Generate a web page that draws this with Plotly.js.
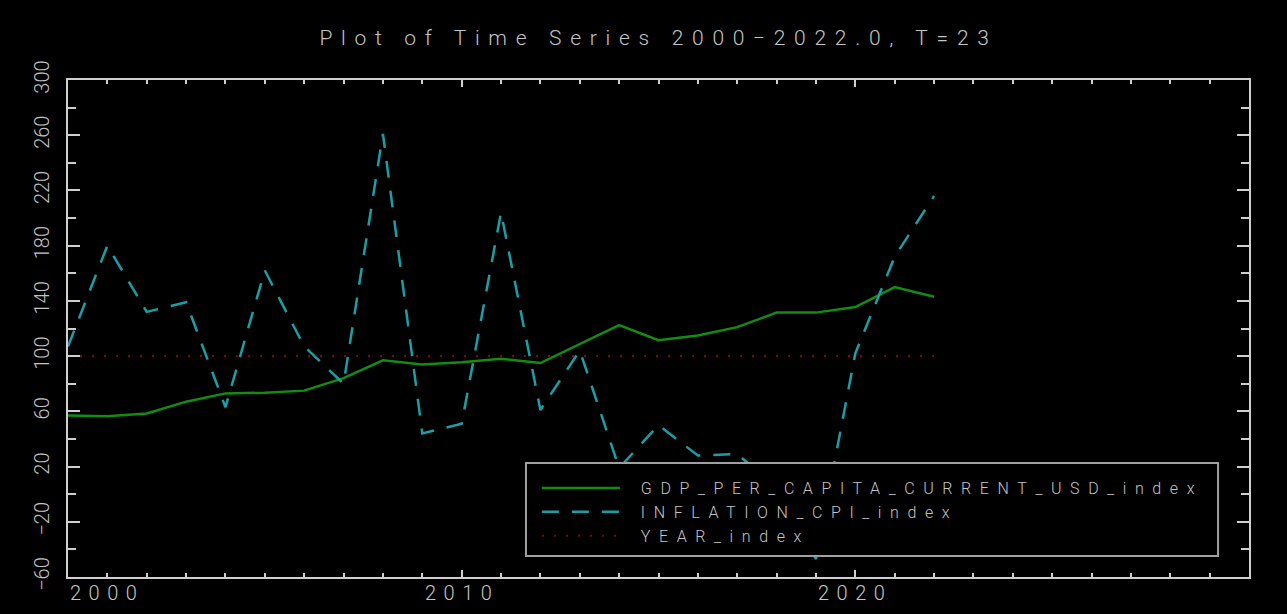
<!DOCTYPE html>
<html>
<head>
<meta charset="utf-8">
<script src="https://cdn.plot.ly/plotly-3.0.1.min.js"></script>
<style>
  html, body { margin: 0; padding: 0; background: #000; }
  #chart { width: 1287px; height: 614px; }
  /* wide, airy lettering for the stroke-style labels */
  .gtitle { letter-spacing: 8.7px; }
  .annotation-text { letter-spacing: 7.5px; }
  .legendtext { letter-spacing: 8.6px; }
</style>
</head>
<body>
<div id="chart"></div>
<script>
// ---- data -------------------------------------------------------------
const years = [2000, 2001, 2002, 2003, 2004, 2005, 2006, 2007, 2008, 2009, 2010, 2011,
               2012, 2013, 2014, 2015, 2016, 2017, 2018, 2019, 2020, 2021, 2022];

const gdpPerCapitaIndex = [57, 56.5, 58.5, 67, 73, 73.5, 75, 84, 97, 94, 95.5, 98,
                           95, 109, 122.5, 111.5, 115, 121, 131.5, 131.5, 135.5, 150, 143];

const inflationCpiIndex = [107, 180, 132, 139, 63, 162, 107, 80, 261, 44, 51, 204,
                           61, 104, 19, 50, 28, 29, 5, -47, 102, 172, 216];

const yearIndex = [100, 100, 100, 100, 100, 100, 100, 100, 100, 100, 100, 100,
                   100, 100, 100, 100, 100, 100, 100, 100, 100, 100, 100];

const seriesNames = ['GDP_PER_CAPITA_CURRENT_USD_index', 'INFLATION_CPI_index', 'YEAR_index'];
const xTickYears = [2000, 2010, 2020];
const xTickLabels = ['2000', '2010', '2020'];
const chartTitle = 'Plot of Time Series 2000\u22122022.0, T=23';

// ---- styling ----------------------------------------------------------
const FONT = 'Roboto, "DejaVu Sans", sans-serif';
const TEXT = '#c4c4c4';
const AXIS = '#cfcfcf';

const traces = [
  { x: years, y: gdpPerCapitaIndex, name: seriesNames[0], type: 'scatter', mode: 'lines',
    line: { color: '#138c13', width: 2.5 } },
  { x: years, y: inflationCpiIndex, name: seriesNames[1], type: 'scatter', mode: 'lines',
    line: { color: '#1c9ea7', width: 2.5, dash: '17px,13px' } },
  { x: years, y: yearIndex, name: seriesNames[2], type: 'scatter', mode: 'lines',
    line: { color: '#7e0a0a', width: 2, dash: '2px,10px' } }
];

const tickAnnotations = xTickYears.map((yr, i) => ({
  x: yr, xref: 'x', y: 0, yref: 'paper',
  xanchor: i === 0 ? 'left' : 'center', yanchor: 'top', yshift: -2,
  text: xTickLabels[i], showarrow: false,
  font: { family: FONT, size: 20, color: TEXT, weight: 300 }
}));

const layout = {
  width: 1287, height: 614,
  paper_bgcolor: '#000', plot_bgcolor: '#000',
  margin: { l: 68, r: 38, t: 80, b: 37 },
  title: {
    text: chartTitle,
    font: { family: FONT, size: 21, color: TEXT, weight: 300 },
    xref: 'paper', x: 0.5, xanchor: 'center',
    yref: 'container', y: 0.938, yanchor: 'middle'
  },
  xaxis: {
    range: [2000, 2030], tick0: 2000, dtick: 10,
    showticklabels: false, showgrid: false, zeroline: false,
    showline: true, linecolor: AXIS, linewidth: 2, mirror: 'ticks',
    ticks: 'inside', ticklen: 7, tickwidth: 2, tickcolor: AXIS,
    minor: { dtick: 1, ticks: 'inside', ticklen: 4, tickwidth: 2, tickcolor: AXIS, showgrid: false }
  },
  yaxis: {
    range: [-60, 300], tick0: -60, dtick: 40,
    tickangle: -90, ticklabelstandoff: 9,
    tickfont: { family: FONT, size: 20, color: TEXT, weight: 300 },
    showgrid: false, zeroline: false,
    showline: true, linecolor: AXIS, linewidth: 2, mirror: 'ticks',
    ticks: 'inside', ticklen: 12, tickwidth: 2, tickcolor: AXIS,
    minor: { dtick: 20, ticks: 'inside', ticklen: 8, tickwidth: 2, tickcolor: AXIS, showgrid: false }
  },
  showlegend: true,
  legend: {
    x: 0.397, xanchor: 'left', y: 0.213, yanchor: 'top',
    bgcolor: 'rgba(0,0,0,0)', borderwidth: 0,
    font: { family: FONT, size: 16, color: TEXT, weight: 300 },
    itemwidth: 94, traceorder: 'normal', tracegroupgap: 0
  },
  // legend frame: opaque panel over the plot area
  shapes: [{
    type: 'rect', xref: 'paper', yref: 'paper', layer: 'above',
    x0: 0.3878, x1: 0.9738, y0: 0.0423, y1: 0.2294,
    fillcolor: '#000', line: { color: '#a0a0a0', width: 2 }
  }],
  annotations: tickAnnotations
};

Plotly.newPlot('chart', traces, layout, { staticPlot: true }).then(gd => {
  // longer line samples in the legend
  gd.querySelectorAll('.legendlines path').forEach(p => p.setAttribute('d', 'M5,0h78'));
});
</script>
</body>
</html>
